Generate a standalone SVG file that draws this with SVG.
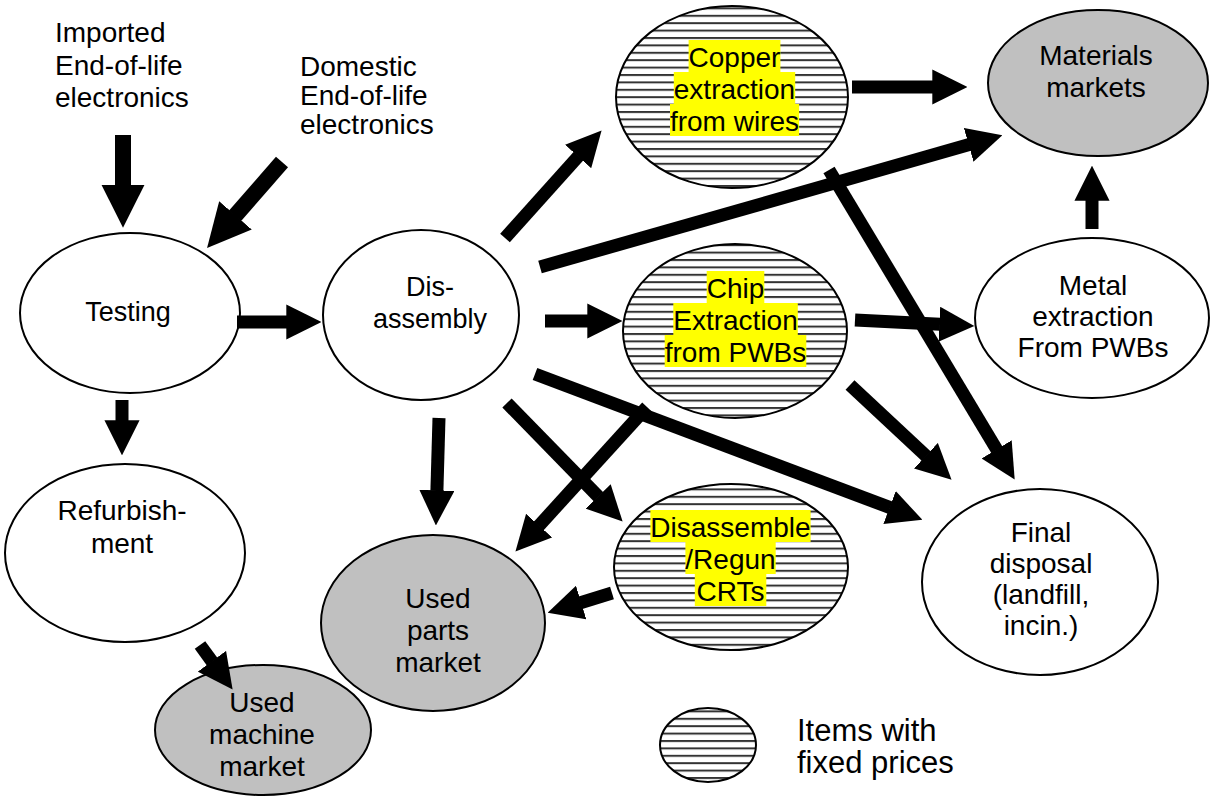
<svg xmlns="http://www.w3.org/2000/svg" width="1211" height="806" viewBox="0 0 1211 806">
<style>
  text { font-family: "Liberation Sans", Arial, sans-serif; font-size: 28px; fill: #000; }
  .c { text-anchor: middle; }
  .w { fill: #fff; stroke: #000; stroke-width: 2; }
  .g { fill: #c0c0c0; stroke: #000; stroke-width: 2; }
  .h { fill: url(#hatch); stroke: #000; stroke-width: 2; }
  .hl { fill: #ffff00; }
  .a { stroke: #000; stroke-width: 13; fill: none; marker-end: url(#ah); }
  .b { stroke: #000; stroke-width: 16; fill: none; marker-end: url(#ah); }
</style>
<defs>
  <pattern id="hatch" patternUnits="userSpaceOnUse" width="10" height="7.4">
    <rect width="10" height="7.4" fill="#fff"/>
    <rect y="0" width="10" height="2" fill="#333"/>
  </pattern>
  <marker id="ah" viewBox="0 0 10 10" refX="0.2" refY="5" markerWidth="2.7" markerHeight="2.7" orient="auto" markerUnits="strokeWidth">
    <path d="M0,0 L10,5 L0,10 z" fill="#000"/>
  </marker>
</defs>
<rect width="1211" height="806" fill="#fff"/>

<g id="imported">
  <text x="55" y="42">Imported</text>
  <text x="55" y="75">End-of-life</text>
  <text x="55" y="107">electronics</text>
</g>
<g id="domestic">
  <text x="300" y="76">Domestic</text>
  <text x="300" y="105">End-of-life</text>
  <text x="300" y="134">electronics</text>
</g>

<g id="testing">
  <ellipse class="w" cx="130" cy="313" rx="110" ry="80"/>
  <text class="c" x="128" y="321" style="font-size:27px">Testing</text>
</g>
<g id="disassembly">
  <ellipse class="w" cx="421" cy="315" rx="98" ry="85"/>
  <text class="c" x="430" y="296" style="font-size:27px">Dis-</text>
  <text class="c" x="430" y="328" style="font-size:27px">assembly</text>
</g>
<g id="copper">
  <ellipse class="h" cx="732" cy="97" rx="116" ry="91"/>
  <rect class="hl" x="688.6" y="40" width="91.8" height="32"/>
  <rect class="hl" x="673.8" y="72" width="121.4" height="32"/>
  <rect class="hl" x="670" y="104" width="129.1" height="32"/>
  <text class="c" x="734.5" y="67">Copper</text>
  <text class="c" x="734.5" y="99">extraction</text>
  <text class="c" x="734.5" y="131">from wires</text>
</g>
<g id="chip">
  <ellipse class="h" cx="735" cy="331" rx="112" ry="87"/>
  <rect class="hl" x="706.7" y="271" width="57.6" height="32"/>
  <rect class="hl" x="673.3" y="303" width="124.5" height="32"/>
  <rect class="hl" x="664.7" y="335" width="141.6" height="32"/>
  <text class="c" x="735.5" y="298">Chip</text>
  <text class="c" x="735.5" y="330">Extraction</text>
  <text class="c" x="735.5" y="362">from PWBs</text>
</g>
<g id="crts">
  <ellipse class="h" cx="731" cy="567" rx="117" ry="83"/>
  <rect class="hl" x="650.4" y="510" width="160.2" height="32"/>
  <rect class="hl" x="685.4" y="542" width="90.3" height="32"/>
  <rect class="hl" x="694.8" y="574" width="71.5" height="32"/>
  <text class="c" x="730.5" y="537">Disassemble</text>
  <text class="c" x="730.5" y="569">/Regun</text>
  <text class="c" x="730.5" y="601">CRTs</text>
</g>
<g id="materials">
  <ellipse class="g" cx="1098" cy="83" rx="110" ry="73"/>
  <text class="c" x="1096" y="65">Materials</text>
  <text class="c" x="1096" y="97">markets</text>
</g>
<g id="metal">
  <ellipse class="w" cx="1092" cy="318" rx="117" ry="80"/>
  <text class="c" x="1093" y="295">Metal</text>
  <text class="c" x="1093" y="326">extraction</text>
  <text class="c" x="1093" y="357">From PWBs</text>
</g>
<g id="final">
  <ellipse class="w" cx="1040" cy="582" rx="118" ry="93"/>
  <text class="c" x="1041" y="542">Final</text>
  <text class="c" x="1041" y="573">disposal</text>
  <text class="c" x="1041" y="604">(landfill,</text>
  <text class="c" x="1041" y="635">incin.)</text>
</g>
<g id="refurbishment">
  <ellipse class="w" cx="125" cy="553" rx="120" ry="89"/>
  <text class="c" x="122" y="520">Refurbish-</text>
  <text class="c" x="122" y="553">ment</text>
</g>
<g id="usedparts">
  <ellipse class="g" cx="433" cy="623" rx="112" ry="88"/>
  <text class="c" x="438" y="608">Used</text>
  <text class="c" x="438" y="640">parts</text>
  <text class="c" x="438" y="672">market</text>
</g>
<g id="usedmachine">
  <ellipse class="g" cx="263" cy="730" rx="108" ry="65"/>
  <text class="c" x="262" y="712">Used</text>
  <text class="c" x="262" y="744">machine</text>
  <text class="c" x="262" y="776">market</text>
</g>
<g id="legend">
  <ellipse class="h" cx="708" cy="745" rx="48" ry="37"/>
  <text x="797" y="741" style="font-size:31px">Items with</text>
  <text x="797" y="773" style="font-size:31px">fixed prices</text>
</g>

<g id="connectors">
  <line class="b" x1="123" y1="135" x2="123" y2="185.5"/>
  <line class="b" x1="282" y1="162" x2="234.9" y2="216"/>
  <line class="a" x1="237" y1="322" x2="287" y2="322"/>
  <line class="a" x1="122" y1="400" x2="122" y2="421"/>
  <line class="a" x1="200" y1="645" x2="212.3" y2="661.8"/>
  <line class="a" x1="505" y1="238" x2="578.6" y2="156"/>
  <line class="a" x1="540" y1="267" x2="969.3" y2="144.6"/>
  <line class="a" x1="545" y1="321" x2="588" y2="321"/>
  <line class="a" x1="439" y1="418" x2="436.9" y2="491"/>
  <line class="a" x1="507" y1="403" x2="598.6" y2="496.9"/>
  <line class="a" x1="535" y1="374" x2="890.2" y2="507.7"/>
  <line class="a" x1="647" y1="407" x2="538.6" y2="526.1"/>
  <line class="a" x1="855" y1="320" x2="940" y2="324.3"/>
  <line class="a" x1="850" y1="385" x2="926.4" y2="456.2"/>
  <line class="a" x1="829" y1="170" x2="997" y2="450"/>
  <line class="a" x1="852" y1="87" x2="933" y2="87"/>
  <line class="a" x1="1092" y1="229" x2="1092" y2="200"/>
  <line class="a" x1="612" y1="593" x2="580.5" y2="602.7"/>
</g>
</svg>
